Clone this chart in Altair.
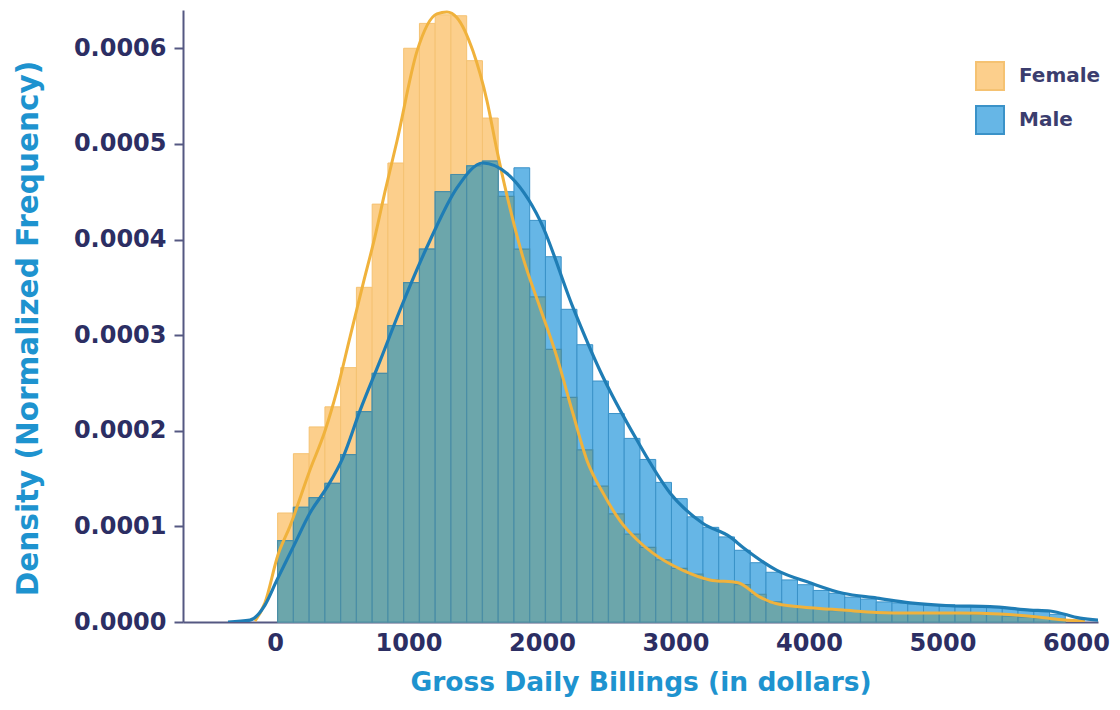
import altair as alt
import pandas as pd

# ---- data ----
bin_edges = [20, 138, 256, 374, 492, 610, 728, 846, 964, 1082, 1200, 1318, 1436,
             1554, 1672, 1790, 1908, 2026, 2144, 2262, 2380, 2498, 2616, 2734,
             2852, 2970, 3088, 3206, 3324, 3442, 3560, 3678, 3796, 3914, 4032,
             4150, 4268, 4386, 4504, 4622, 4740, 4858, 4976, 5094, 5212, 5330,
             5448, 5566, 5684, 5802, 5920]

# histogram densities, in units of 1e-4
female_density = [1.14, 1.76, 2.04, 2.25, 2.66, 3.5, 4.37, 4.8, 6.0, 6.26, 6.35,
                  6.34, 5.87, 5.27, 4.45, 3.9, 3.4, 2.85, 2.35, 1.8, 1.42, 1.13,
                  0.92, 0.78, 0.65, 0.56, 0.5, 0.44, 0.42, 0.39, 0.29, 0.21, 0.17,
                  0.15, 0.14, 0.12, 0.11, 0.10, 0.10, 0.09, 0.09, 0.09, 0.09, 0.09,
                  0.08, 0.08, 0.06, 0.05, 0.04, 0.03]
male_density = [0.85, 1.2, 1.3, 1.45, 1.75, 2.2, 2.6, 3.1, 3.55, 3.9, 4.5, 4.68,
                4.77, 4.82, 4.5, 4.75, 4.2, 3.82, 3.27, 2.9, 2.52, 2.18, 1.92, 1.7,
                1.46, 1.29, 1.1, 0.99, 0.89, 0.75, 0.62, 0.52, 0.44, 0.39, 0.33,
                0.30, 0.26, 0.24, 0.21, 0.20, 0.19, 0.18, 0.18, 0.17, 0.16, 0.16,
                0.14, 0.13, 0.11, 0.08]

# KDE curves (x in dollars, density in units of 1e-4)
female_kde_x = [-150, -75, 22, 112, 262, 375, 464, 562, 659, 749, 824, 914, 1064,
                1213, 1288, 1363, 1483, 1588, 1663, 1760, 1858, 1985, 2112, 2232,
                2337, 2457, 2584, 2712, 2831, 3056, 3258, 3468, 3633, 3760, 4007,
                4255, 4509, 4757, 5131, 5431, 5730, 5918, 6067]
female_kde_y = [0.01, 0.2, 0.70, 1.0, 1.59, 2.0, 2.42, 2.98, 3.53, 4.03, 4.5, 5.03,
                5.97, 6.36, 6.38, 6.32, 5.97, 5.45, 4.93, 4.33, 3.81, 3.29, 2.77,
                2.18, 1.69, 1.35, 1.06, 0.86, 0.72, 0.54, 0.44, 0.41, 0.26, 0.19,
                0.15, 0.125, 0.10, 0.094, 0.094, 0.083, 0.05, 0.02, 0.01]
male_kde_x = [-352, -187, -75, 15, 135, 262, 390, 509, 637, 787, 936, 1161, 1363,
              1558, 1738, 1985, 2232, 2434, 2712, 2959, 3206, 3408, 3506, 3760,
              4007, 4255, 4509, 4757, 5056, 5356, 5655, 5805, 6030, 6255]
male_kde_y = [0.0, 0.02, 0.177, 0.44, 0.78, 1.14, 1.41, 1.72, 2.21, 2.73, 3.26,
              3.99, 4.54, 4.80, 4.69, 4.20, 3.29, 2.63, 1.90, 1.35, 1.03, 0.89,
              0.78, 0.54, 0.41, 0.30, 0.25, 0.20, 0.17, 0.16, 0.125, 0.115, 0.04,
              0.01]

sexes = ["Female", "Male"]
x_ticks = [0, 1000, 2000, 3000, 4000, 5000, 6000]
y_ticks = [0.0, 0.0001, 0.0002, 0.0003, 0.0004, 0.0005, 0.0006]
UNIT = 1e-4

# ---- tables ----
def bar_table(values, sex):
    return pd.DataFrame({
        "sex": sex,
        "x0": bin_edges[:-1],
        "x1": bin_edges[1:],
        "density": [v * UNIT for v in values],
    })

female_df = bar_table(female_density, "Female")
male_df = bar_table(male_density, "Male")
overlap_df = bar_table([min(f, m) for f, m in zip(female_density, male_density)], "Both")
female_kde = pd.DataFrame({"x": female_kde_x, "density": [v * UNIT for v in female_kde_y]})
male_kde = pd.DataFrame({"x": male_kde_x, "density": [v * UNIT for v in male_kde_y]})

# ---- styling ----
FONT = "DejaVu Sans"
LABEL_COLOR = "#2c2e63"
TITLE_COLOR = "#1e93cf"
AXIS_COLOR = "#555882"

x_scale = alt.Scale(domain=[-689, 6165], nice=False, zero=False)
y_scale = alt.Scale(domain=[0, 0.00064], nice=False)
fill_scale = alt.Scale(domain=sexes, range=["#fccf8c", "#66b6e6"])
stroke_scale = alt.Scale(domain=sexes, range=["#f5c272", "#3a92c8"])

x_axis = alt.Axis(values=x_ticks, format="d", title="Gross Daily Billings (in dollars)",
                  ticks=False, labelPadding=9, titlePadding=14, grid=False,
                  titleFontSize=26.5)
y_axis = alt.Axis(values=y_ticks, format=".4f", title="Density (Normalized Frequency)",
                  tickSize=9, labelPadding=8, titlePadding=30, grid=False,
                  titleFontSize=29.5, titleY=318)

legend = alt.Legend(title=None, orient="none", legendX=792, legendY=51,
                    symbolType="square", symbolSize=784, symbolStrokeWidth=2,
                    labelFont=FONT, labelFontSize=20, labelFontWeight="bold",
                    labelColor="#3b3d6e", rowPadding=8, labelOffset=14)

female_bars = alt.Chart(female_df).mark_bar(strokeWidth=1).encode(
    x=alt.X("x0:Q", scale=x_scale, axis=x_axis),
    x2="x1:Q",
    y=alt.Y("density:Q", scale=y_scale, axis=y_axis, stack=None),
    y2=alt.datum(0),
    fill=alt.Fill("sex:N", scale=fill_scale, legend=legend),
    stroke=alt.Stroke("sex:N", scale=stroke_scale, legend=legend),
)
male_bars = alt.Chart(male_df).mark_bar(strokeWidth=1).encode(
    x=alt.X("x0:Q", scale=x_scale),
    x2="x1:Q",
    y=alt.Y("density:Q", scale=y_scale, stack=None),
    y2=alt.datum(0),
    fill=alt.Fill("sex:N", scale=fill_scale, legend=legend),
    stroke=alt.Stroke("sex:N", scale=stroke_scale, legend=legend),
)
overlap_bars = alt.Chart(overlap_df).mark_bar(
    fill="#6ca6ab", stroke="#4a8ea6", strokeWidth=1.2
).encode(
    x=alt.X("x0:Q", scale=x_scale),
    x2="x1:Q",
    y=alt.Y("density:Q", scale=y_scale, stack=None),
    y2=alt.datum(0),
)
female_line = alt.Chart(female_kde).mark_line(
    color="#f0b23c", strokeWidth=3, interpolate="monotone", clip=True
).encode(
    x=alt.X("x:Q", scale=x_scale),
    y=alt.Y("density:Q", scale=y_scale),
)
male_line = alt.Chart(male_kde).mark_line(
    color="#1f7db5", strokeWidth=3.2, interpolate="monotone", clip=True
).encode(
    x=alt.X("x:Q", scale=x_scale),
    y=alt.Y("density:Q", scale=y_scale),
)

chart = alt.layer(
    female_bars, male_bars, overlap_bars, female_line, male_line
).properties(
    width=915,
    height=612,
    padding={"left": 175, "top": 2, "right": 12, "bottom": 80},
    autosize=alt.AutoSizeParams(type="none"),
).configure_view(
    stroke=None
).configure_axis(
    labelFont=FONT,
    labelFontSize=24,
    labelFontWeight="bold",
    labelColor=LABEL_COLOR,
    titleFont=FONT,
    titleFontWeight="bold",
    titleColor=TITLE_COLOR,
    domainColor=AXIS_COLOR,
    domainWidth=2,
    tickColor=AXIS_COLOR,
    tickWidth=2,
)

chart.save("out.html", embed_options={"renderer": "svg", "actions": False})
